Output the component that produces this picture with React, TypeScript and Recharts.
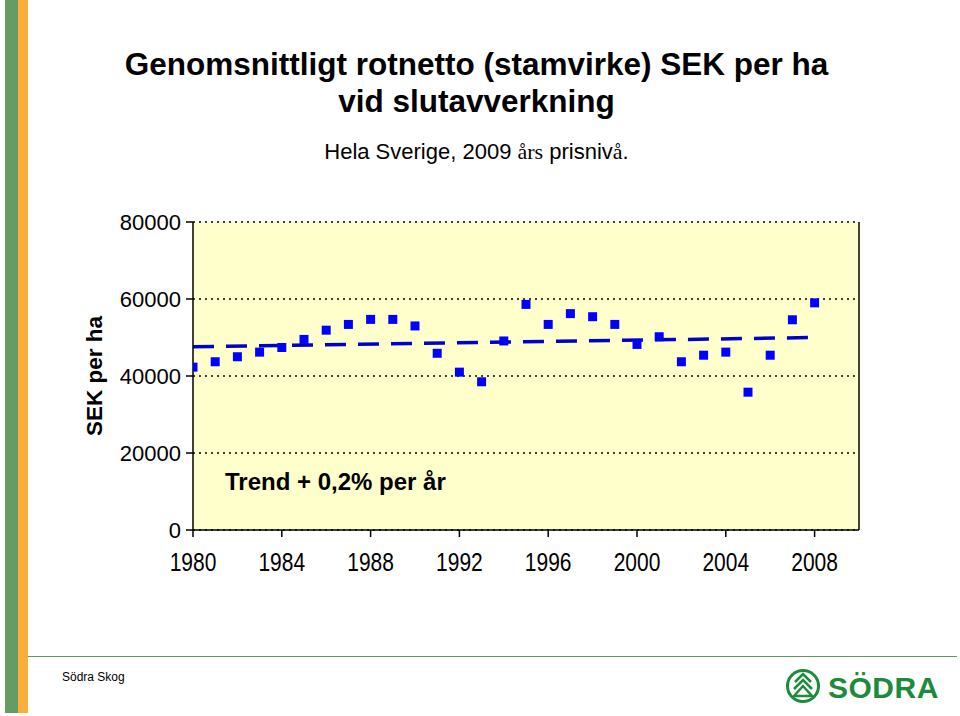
import React from "react";
import {
  ComposedChart,
  Scatter,
  Line,
  XAxis,
  YAxis,
  CartesianGrid,
  ReferenceLine
} from "recharts";

// Årtal och rotnetto (SEK per ha)
const years = [
  1980, 1981, 1982, 1983, 1984, 1985, 1986, 1987, 1988, 1989,
  1990, 1991, 1992, 1993, 1994, 1995, 1996, 1997, 1998, 1999,
  2000, 2001, 2002, 2003, 2004, 2005, 2006, 2007, 2008
];
const rotnetto = [
  42300, 43700, 45000, 46200, 47400, 49500, 51900, 53400, 54700, 54700,
  53000, 45900, 41000, 38500, 49100, 58600, 53400, 56200, 55400, 53400,
  48200, 50200, 43700, 45400, 46200, 35800, 45400, 54600, 59000
];
// trendlinjens ändpunkter
const trendYears = [1980, 2008];
const trendValues = [47600, 50000];

const xTicks = [1980, 1984, 1988, 1992, 1996, 2000, 2004, 2008];
const yTicks = [0, 20000, 40000, 60000, 80000];

const points = years.map((year, i) => ({ year, value: rotnetto[i] }));
const trend = trendYears.map((year, i) => ({ year, trend: trendValues[i] }));

const FONT = "'Liberation Sans', Arial, Helvetica, sans-serif";
const SERIF = "'Liberation Serif', 'Times New Roman', serif";

const Square = (props: any) => {
  const { cx, cy } = props;
  return <rect x={cx - 4.5} y={cy - 4.5} width={9} height={9} fill="#0000FF" />;
};

// årtalen är lite högre än breda i originalet
const YearTick = (props: any) => {
  const { x, y, payload } = props;
  return (
    <text
      transform={`translate(${x},${y}) scale(1,1.2)`}
      dy="0.71em"
      textAnchor="middle"
      fontSize={21}
      fontFamily={FONT}
      fill="#000"
    >
      {payload.value}
    </text>
  );
};

const abs = (style: React.CSSProperties): React.CSSProperties => ({
  position: "absolute",
  ...style
});

export default function App() {
  return (
    <div
      style={{
        position: "absolute",
        left: 0,
        top: 0,
        width: 960,
        height: 716,
        background: "#fff",
        fontFamily: FONT,
        color: "#000",
        overflow: "hidden"
      }}
    >
      {/* ränderna till vänster */}
      <div style={abs({ left: 5, top: 0, width: 13, height: 713, background: "#689A63" })} />
      <div style={abs({ left: 18, top: 0, width: 10, height: 713, background: "#F9AE3A" })} />

      {/* rubrik */}
      <div
        style={abs({
          left: 0,
          width: 953,
          top: 46,
          textAlign: "center",
          fontWeight: "bold",
          fontSize: 31.5,
          lineHeight: "37px"
        })}
      >
        Genomsnittligt rotnetto (stamvirke) SEK per ha
        <br />
        vid slutavverkning
      </div>
      <div
        style={abs({
          left: 0,
          width: 953,
          top: 138,
          textAlign: "center",
          fontSize: 22,
          lineHeight: "28px"
        })}
      >
        Hela Sverige, 2009 <span style={{ fontFamily: SERIF }}>års</span> prisniv
        <span style={{ fontFamily: SERIF }}>å</span>.
      </div>

      <ComposedChart
        width={960}
        height={716}
        margin={{ top: 222, right: 101, bottom: 146, left: 0 }}
        style={{ position: "absolute", left: 0, top: 0 }}
      >
        <CartesianGrid
          vertical={false}
          stroke="#000"
          strokeWidth={1.5}
          strokeDasharray="2 4"
          fill="#FFFFCC"
          fillOpacity={1}
        />
        <XAxis
          dataKey="year"
          type="number"
          domain={[1980, 2010]}
          ticks={xTicks}
          allowDataOverflow
          height={40}
          tickSize={7}
          tickMargin={16}
          axisLine={{ stroke: "#000", strokeWidth: 1.5 }}
          tickLine={{ stroke: "#000", strokeWidth: 1.5 }}
          tick={YearTick}
        />
        <YAxis
          type="number"
          domain={[0, 80000]}
          ticks={yTicks}
          width={193}
          tickSize={7}
          tickMargin={5}
          axisLine={{ stroke: "#000", strokeWidth: 1.5 }}
          tickLine={{ stroke: "#000", strokeWidth: 1.5 }}
          tick={{ fill: "#000", fontSize: 22, fontFamily: FONT }}
        />
        <ReferenceLine x={2010} stroke="#000" strokeWidth={1.5} />
        <Line
          data={trend}
          dataKey="trend"
          type="linear"
          stroke="#0000CC"
          strokeWidth={3.5}
          strokeDasharray="21 12"
          dot={false}
          activeDot={false}
          isAnimationActive={false}
        />
        <Scatter
          data={points}
          dataKey="value"
          shape={Square}
          isAnimationActive={false}
        />
      </ComposedChart>

      {/* axeltitel */}
      <div
        style={abs({
          left: 95,
          top: 376,
          transform: "translate(-50%, -50%) rotate(-90deg)",
          fontWeight: "bold",
          fontSize: 22.5,
          whiteSpace: "nowrap"
        })}
      >
        SEK per ha
      </div>

      <div
        style={abs({
          left: 225,
          top: 467,
          fontWeight: "bold",
          fontSize: 24,
          lineHeight: "30px",
          whiteSpace: "nowrap"
        })}
      >
        Trend + 0,2% per år
      </div>

      {/* sidfot */}
      <div style={abs({ left: 28, top: 656, width: 929, height: 1, background: "#5E9A5A" })} />
      <div style={abs({ left: 62, top: 669, fontSize: 12, lineHeight: "16px" })}>Södra Skog</div>
      <svg width={170} height={44} style={{ position: "absolute", left: 783, top: 665 }}>
        <circle cx={20} cy={21} r={15.5} fill="none" stroke="#1E8B3C" strokeWidth={3} />
        <polyline points="12,17 20,9 28,17" fill="none" stroke="#1E8B3C" strokeWidth={2.5} />
        <polyline points="11,24 20,15 29,24" fill="none" stroke="#1E8B3C" strokeWidth={2.5} />
        <polygon points="11,31 20,21 29,31" fill="none" stroke="#1E8B3C" strokeWidth={2.5} />
        <text
          x={45}
          y={33}
          fontFamily={FONT}
          fontWeight="bold"
          fontSize={30}
          fill="#1E8B3C"
          letterSpacing={0.5}
        >
          SÖDRA
        </text>
      </svg>
    </div>
  );
}
